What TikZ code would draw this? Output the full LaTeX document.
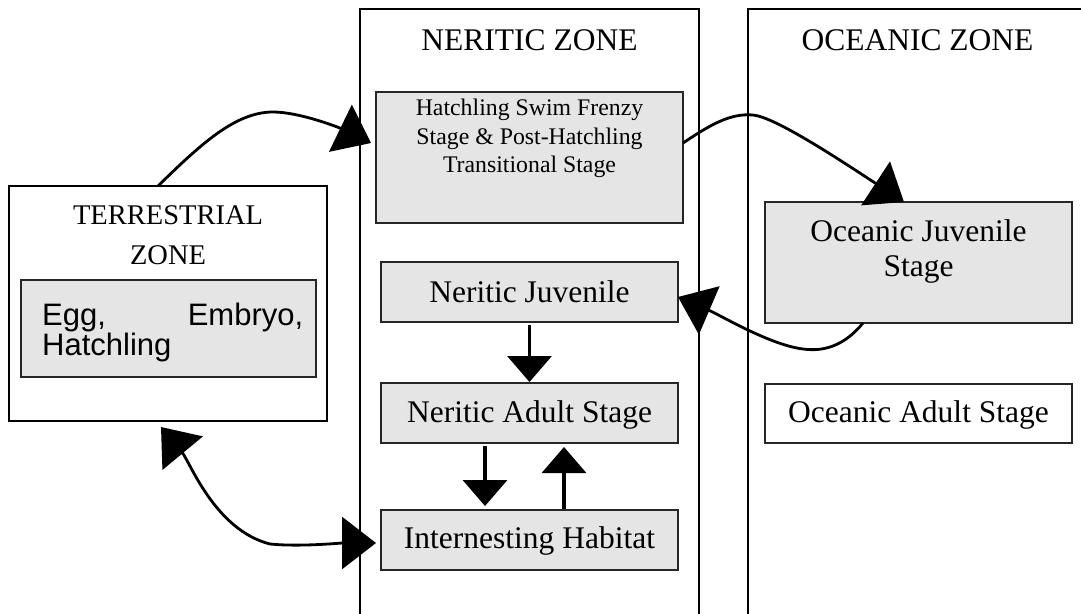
\documentclass[tikz,border=0pt]{standalone}
\usepackage{fontspec}
\setmainfont{Liberation Serif}
\setsansfont{Liberation Sans}
\usetikzlibrary{arrows.meta}
\tikzset{
  zoneline/.style={line width=2.7pt, draw=black},
  zonebox/.style={draw=black, line width=2.7pt, fill=white, anchor=north west, inner sep=0pt, outer sep=0pt},
  stagebox/.style={draw=black!85, line width=1.1pt, fill=black!10, anchor=north west, inner sep=0pt, outer sep=0pt},
  whitebox/.style={stagebox, fill=white},
  txt/.style={anchor=base, inner sep=0pt, font=\fontsize{31.5}{36}\selectfont},
  smalltxt/.style={anchor=base, inner sep=0pt, font=\fontsize{23.8}{28}\selectfont},
  terrtxt/.style={anchor=base, inner sep=0pt, font=\fontsize{28.5}{32}\selectfont},
  eggtxt/.style={anchor=base west, inner sep=0pt, font=\sffamily\fontsize{31}{34}\selectfont},
  conn/.style={line width=2.8pt, -{Triangle[length=34pt,width=52pt]}},
  dconn/.style={line width=2.8pt, {Triangle[length=34pt,width=52pt]}-{Triangle[length=34pt,width=52pt]}},
  vconn/.style={line width=3.6pt, -{Triangle[length=26pt,width=44pt]}},
}
\begin{document}
\begin{tikzpicture}[x=1pt,y=-1pt]
\useasboundingbox (0,0) rectangle (1081,613);
\begin{scope}
  \clip (0,0) rectangle (1081,613);
  \draw[zoneline] (360,640) -- (360,9) -- (699,9) -- (699,640);
  \draw[zoneline] (748,640) -- (748,9) -- (1095,9) -- (1095,640);
\end{scope}

% zone labels
\node[txt] (nerlabel) at (529.5,50) {NERITIC ZONE};
\node[txt] (ocelabel) at (917.5,50) {OCEANIC ZONE};

% terrestrial zone
\node[zonebox, minimum width=318pt, minimum height=235pt] (terr) at (9,186) {};
\node[terrtxt] (terrlabA) at (168,224) {TERRESTRIAL};
\node[terrtxt] (terrlabB) at (168,264) {ZONE};
\node[stagebox, minimum width=295pt, minimum height=97pt] (egg) at (21,280) {};
\node[eggtxt] (eggA) at (42,325) {\makebox[261pt]{Egg,\hfill Embryo,}};
\node[eggtxt] (eggB) at (42,355) {Hatchling};

% neritic zone boxes
\node[stagebox, minimum width=307pt, minimum height=131pt] (hatch) at (376,92) {};
\node[smalltxt] (hatchA) at (529.5,115.5) {Hatchling Swim Frenzy};
\node[smalltxt] (hatchB) at (529.5,144) {Stage \& Post-Hatchling};
\node[smalltxt] (hatchC) at (529.5,172.5) {Transitional Stage};

\node[stagebox, minimum width=297pt, minimum height=60pt] (njuv) at (381,262) {};
\node[txt] (njuvT) at (529.5,302) {Neritic Juvenile};

\node[stagebox, minimum width=297pt, minimum height=60pt] (nadult) at (381,383) {};
\node[txt] (nadultT) at (529.5,422) {Neritic Adult Stage};

\node[stagebox, minimum width=297pt, minimum height=60pt] (intern) at (381,510) {};
\node[txt] (internT) at (529.5,548) {Internesting Habitat};

% oceanic zone boxes
\node[stagebox, minimum width=307pt, minimum height=121pt] (ojuv) at (765,202) {};
\node[txt] (ojuvA) at (918.5,241) {Oceanic Juvenile};
\node[txt] (ojuvB) at (918.5,276) {Stage};

\node[whitebox, minimum width=307pt, minimum height=59pt] (oadult) at (765,384) {};
\node[txt] (oadultT) at (918.5,422) {Oceanic Adult Stage};

% connectors
\draw[conn] ([xshift=149pt]terr.north west) .. controls (200,145) and (235,112) .. (273,112)
  .. controls (300,112) and (340,128) .. ([xshift=-5pt,yshift=14.5pt]hatch.west);
\draw[conn] ([yshift=14.5pt]hatch.east) .. controls (710,125) and (730,113) .. (753,115)
  .. controls (775,117) and (840,160) .. ([xshift=-14.5pt]ojuv.north);
\draw[conn] ([xshift=-55.5pt]ojuv.south) .. controls (845,345) and (825,352) .. (803,349)
  .. controls (770,345) and (720,315) .. ([yshift=-5pt]njuv.east);
\draw[vconn, shorten <=3pt, shorten >=1pt] (njuv.south) -- (nadult.north);
\draw[vconn, shorten <=3pt, shorten >=4pt] ([xshift=-44.5pt]nadult.south) -- ([xshift=-44.5pt]intern.north);
\draw[vconn, shorten <=1pt, shorten >=4pt] ([xshift=34.5pt]intern.north) -- ([xshift=34.5pt]nadult.south);
\draw[dconn] ([xshift=-7pt,yshift=-6pt]terr.south) .. controls (190,462) and (215,530) .. (270,544)
  .. controls (300,547) and (340,543) .. ([xshift=-5pt,yshift=-3pt]intern.west);
\end{tikzpicture}
\end{document}
